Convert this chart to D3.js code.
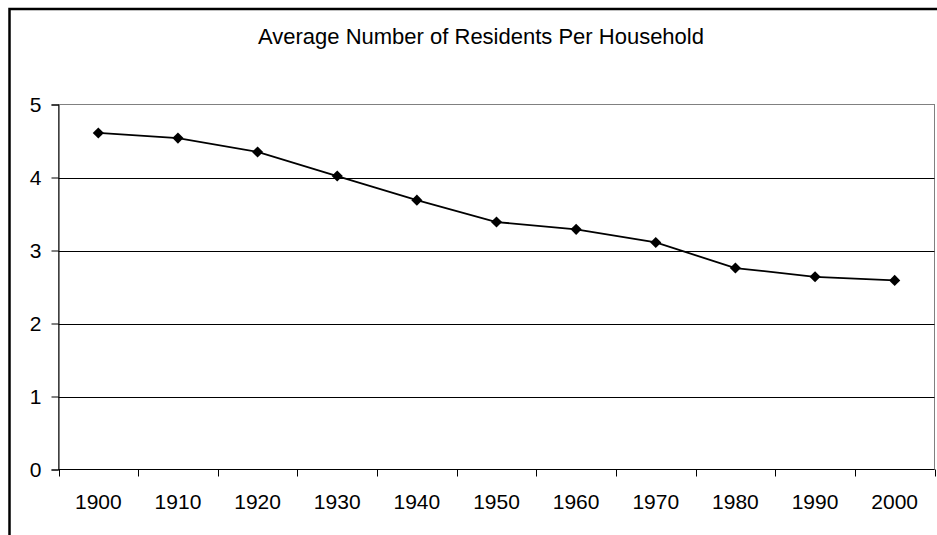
<!DOCTYPE html>
<html>
<head>
<meta charset="utf-8">
<script src="https://cdn.jsdelivr.net/npm/d3@7"></script>
<style>
  html, body { margin: 0; padding: 0; background: #fff; }
  svg { display: block; font-family: "Liberation Sans", Arial, sans-serif; }
</style>
</head>
<body>
<svg id="chart" width="937" height="535"></svg>
<script>
// Census decades and average household size
const years = ["1900", "1910", "1920", "1930", "1940", "1950", "1960", "1970", "1980", "1990", "2000"];
const residents = [4.61, 4.54, 4.35, 4.02, 3.69, 3.39, 3.29, 3.11, 2.76, 2.64, 2.59];
const yTicks = [0, 1, 2, 3, 4, 5];
const title = "Average Number of Residents Per Household";

const svg = d3.select("#chart");
const W = 937, H = 535;
const plot = { left: 58.5, right: 934.5, top: 104.5, bottom: 469.5 };

svg.append("rect").attr("width", W).attr("height", H).attr("fill", "#fff");

// outer chart frame (runs off the right and bottom edges)
svg.append("rect")
  .attr("x", 9.5).attr("y", 9).attr("width", W + 20).attr("height", H + 20)
  .attr("fill", "none").attr("stroke", "#000").attr("stroke-width", 2.5);

const x = d3.scaleBand().domain(years).range([plot.left, plot.right]).paddingInner(0).paddingOuter(0);
const y = d3.scaleLinear().domain([0, 5]).range([plot.bottom, plot.top]);

// plot area border
svg.append("rect")
  .attr("x", plot.left).attr("y", plot.top)
  .attr("width", plot.right - plot.left).attr("height", plot.bottom - plot.top)
  .attr("fill", "none").attr("stroke", "#808080").attr("stroke-width", 1);

// horizontal gridlines
svg.append("g").selectAll("line")
  .data(yTicks.filter(d => d > 0 && d < 5))
  .join("line")
  .attr("x1", plot.left).attr("x2", plot.right)
  .attr("y1", d => Math.round(y(d)) + 0.5).attr("y2", d => Math.round(y(d)) + 0.5)
  .attr("stroke", "#000").attr("stroke-width", 1);

// y axis
const yAxis = svg.append("g")
  .attr("transform", `translate(${plot.left},0)`)
  .call(d3.axisLeft(y).tickValues(yTicks).tickFormat(d3.format("d")).tickSize(7).tickPadding(10));
yAxis.select(".domain").attr("stroke", "#000");
yAxis.selectAll(".tick line").attr("stroke", "#000");
yAxis.selectAll("text")
  .attr("font-size", 21).attr("fill", "#000")
  .attr("font-family", "'Liberation Sans', Arial, sans-serif");

// x axis with ticks between categories
const xAxisG = svg.append("g").attr("transform", `translate(0,${plot.bottom})`);
xAxisG.append("line")
  .attr("x1", plot.left).attr("x2", plot.right)
  .attr("stroke", "#000").attr("stroke-width", 1);
const bounds = years.map(d => x(d)).concat([x(years[years.length - 1]) + x.bandwidth()]);
xAxisG.selectAll("line.tick")
  .data(bounds)
  .join("line").attr("class", "tick")
  .attr("x1", d => Math.round(d) + 0.5).attr("x2", d => Math.round(d) + 0.5)
  .attr("y1", 0).attr("y2", 7)
  .attr("stroke", "#000");
xAxisG.selectAll("text")
  .data(years)
  .join("text")
  .attr("x", d => x(d) + x.bandwidth() / 2)
  .attr("y", 39)
  .attr("text-anchor", "middle")
  .attr("font-size", 21)
  .attr("fill", "#000")
  .text(d => d);

// series line
const line = d3.line()
  .x((d, i) => x(years[i]) + x.bandwidth() / 2)
  .y(d => y(d));
svg.append("path")
  .datum(residents)
  .attr("d", line)
  .attr("fill", "none")
  .attr("stroke", "#000")
  .attr("stroke-width", 1.8);

// diamond markers
const diamond = d3.symbol().type(d3.symbolSquare).size(62);
svg.append("g").selectAll("path")
  .data(residents)
  .join("path")
  .attr("d", diamond)
  .attr("transform", (d, i) => `translate(${x(years[i]) + x.bandwidth() / 2},${y(d)}) rotate(45)`)
  .attr("fill", "#000");

// title
svg.append("text")
  .attr("x", 481).attr("y", 43.5)
  .attr("text-anchor", "middle")
  .attr("font-size", 22)
  .attr("fill", "#000")
  .text(title);
</script>
</body>
</html>
